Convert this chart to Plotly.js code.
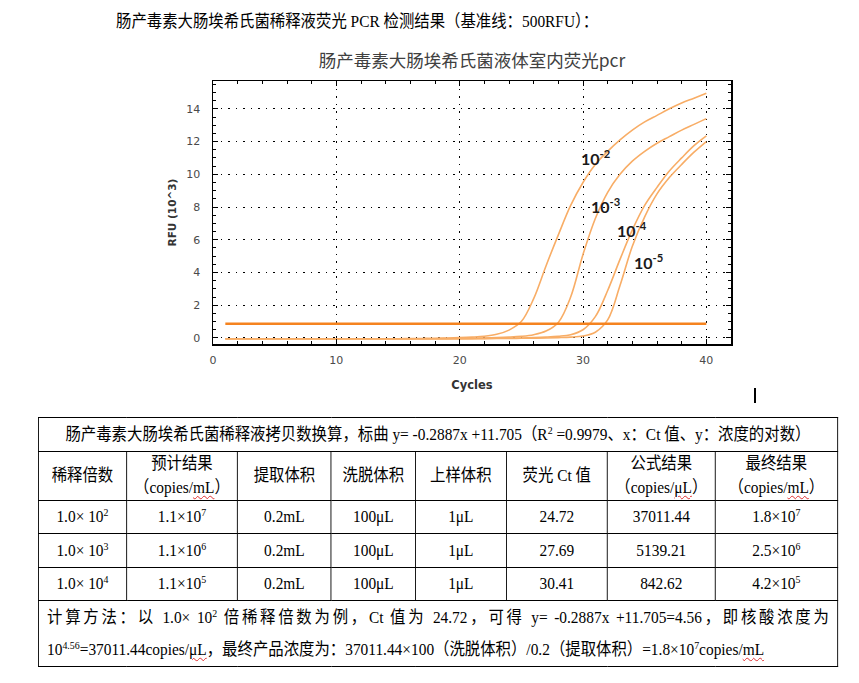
<!DOCTYPE html>
<html>
<head>
<meta charset="utf-8">
<script src="https://cdn.plot.ly/plotly-3.0.1.min.js"></script>
<style>
  body { margin: 0; width: 859px; height: 683px; position: relative; background: #fff; overflow: hidden; }
  .doc { font-family: "Liberation Serif", "Noto Sans CJK SC", serif; font-size: 17.1px; color: #000; transform: scaleX(0.9); transform-origin: 0 0; }
  #heading { position: absolute; left: 116px; top: 7px; white-space: nowrap; z-index: 2; }
  #chart { position: absolute; left: 0; top: 0; width: 859px; height: 410px; }
  #cursor { position: absolute; left: 754px; top: 388px; width: 1.5px; height: 15px; background: #000; }
  #tbl { position: absolute; left: 38px; top: 417px; border-collapse: collapse; table-layout: fixed; }
  #tbl td { border: 1px solid #000; text-align: center; vertical-align: middle; padding: 0; line-height: 24px; white-space: nowrap; overflow: visible; }
  #tbl sup { font-size: 11px; vertical-align: 6px; line-height: 1; }
  .sp { text-decoration: underline wavy #e03030; text-decoration-thickness: 1px; text-underline-offset: 2px; }
  #tbl td.note { text-align: left; padding: 0 9px; line-height: 32px; }
  .jl { display: block; text-align: justify; text-align-last: justify; }
</style>
</head>
<body>
<div id="heading" class="doc">肠产毒素大肠埃希氏菌稀释液荧光 PCR 检测结果（基准线：500RFU）：</div>
<div id="chart"></div>
<div id="cursor"></div>
<table id="tbl" class="doc"></table>
<script>
// 循环数
var cycles = [1,2,3,4,5,6,7,8,9,10,11,12,13,14,15,16,17,18,19,20,
              21,22,23,24,25,26,27,28,29,30,31,32,33,34,35,36,37,38,39,40];

// 各稀释度扩增曲线 RFU (10^3)
var rfu1e2 = [-0.05,-0.05,-0.05,-0.05,-0.05,-0.05,-0.05,-0.05,-0.05,-0.05,
              -0.05,-0.05,-0.05,-0.05,-0.05,-0.04,-0.03,-0.02,0.0,0.02,
              0.05,0.1,0.22,0.48,1.0,2.4,4.4,6.3,8.1,9.5,
              10.6,11.4,12.1,12.7,13.2,13.6,14.0,14.35,14.65,14.95];
var rfu1e3 = [-0.05,-0.05,-0.05,-0.05,-0.05,-0.05,-0.05,-0.05,-0.05,-0.05,
              -0.05,-0.05,-0.05,-0.05,-0.05,-0.05,-0.05,-0.05,-0.04,-0.03,
              -0.02,0.0,0.02,0.05,0.1,0.2,0.42,0.95,2.5,5.1,
              7.3,8.9,10.0,10.8,11.4,11.9,12.3,12.7,13.05,13.4];
var rfu1e4 = [-0.05,-0.05,-0.05,-0.05,-0.05,-0.05,-0.05,-0.05,-0.05,-0.05,
              -0.05,-0.05,-0.05,-0.05,-0.05,-0.05,-0.05,-0.05,-0.05,-0.05,
              -0.04,-0.03,-0.02,-0.01,0.0,0.02,0.05,0.1,0.2,0.5,
              1.3,2.9,4.8,6.6,8.1,9.2,10.2,11.0,11.75,12.35];
var rfu1e5 = [-0.05,-0.05,-0.05,-0.05,-0.05,-0.05,-0.05,-0.05,-0.05,-0.05,
              -0.05,-0.05,-0.05,-0.05,-0.05,-0.05,-0.05,-0.05,-0.05,-0.05,
              -0.05,-0.04,-0.03,-0.03,-0.02,-0.01,0.0,0.02,0.05,0.12,
              0.35,1.1,3.2,5.6,7.4,8.8,9.8,10.6,11.35,12.0];

// 基准线
var baseX = [1, 40];
var baseY = [0.87, 0.87];

// 曲线标注
var labelText = ['10<sup>-2</sup>', '10<sup>-3</sup>', '10<sup>-4</sup>', '10<sup>-5</sup>'];
var labelX = [31.0, 31.8, 34.0, 35.3];
var labelY = [11.0, 8.1, 6.6, 4.7];

// 表格数据
var tableTitle = '肠产毒素大肠埃希氏菌稀释液拷贝数换算，标曲 y= -0.2887x +11.705（R<sup>2</sup> =0.9979、x：Ct 值、y：浓度的对数）';
var headers = ['稀释倍数', '预计结果<br>（copies/<span class="sp">mL</span>）', '提取体积', '洗脱体积', '上样体积',
               '荧光 Ct 值', '公式结果<br>（copies/<span class="sp">μL</span>）', '最终结果<br>（copies/<span class="sp">mL</span>）'];
var dilutionExp = [2, 3, 4];
var expectedMant = ['1.1', '1.1', '1.1'];
var expectedExp = [7, 6, 5];
var extractVol = ['0.2mL', '0.2mL', '0.2mL'];
var elutionVol = ['100μL', '100μL', '100μL'];
var loadVol = ['1μL', '1μL', '1μL'];
var ctValues = [24.72, 27.69, 30.41];
var formulaResult = [37011.44, 5139.21, 842.62];
var finalMant = ['1.8', '2.5', '4.2'];
var finalExp = [7, 6, 5];
var noteLine1 = '计算方法：以 1.0× 10<sup>2</sup> 倍稀释倍数为例，Ct 值为 24.72，可得 y= -0.2887x +11.705=4.56，即核酸浓度为';
var noteLine2 = '10<sup>4.56</sup>=37011.44copies/<span class="sp">μL</span>，最终产品浓度为：37011.44×100（洗脱体积）/0.2（提取体积）=1.8×10<sup>7</sup>copies/<span class="sp">mL</span>';

var colWidths = [88, 111, 94, 84, 91, 101, 108, 122];
var rowHeights = [34, 48, 33, 34, 33, 66];
var squeeze = 0.9;

// ---- 图 ----
var curveColor = '#f8ad66';
function curve(y, name) {
    return {
        x: cycles, y: y, name: name, type: 'scatter', mode: 'lines',
        line: { color: curveColor, width: 1.6, shape: 'spline', smoothing: 1 },
        hoverinfo: 'x+y+name'
    };
}

var data = [
    curve(rfu1e2, '10^-2'),
    curve(rfu1e3, '10^-3'),
    curve(rfu1e4, '10^-4'),
    curve(rfu1e5, '10^-5'),
    {
        x: baseX, y: baseY, name: '基准线', type: 'scatter', mode: 'lines',
        line: { color: '#f5831f', width: 2.6 }
    }
];

var tickFont = { family: 'DejaVu Sans', size: 11, color: '#4a4a4a' };

var layout = {
    width: 859,
    height: 410,
    paper_bgcolor: 'rgba(0,0,0,0)',
    plot_bgcolor: '#fff',
    showlegend: false,
    margin: { l: 213, r: 128, t: 81, b: 66, pad: 0 },
    title: {
        text: '肠产毒素大肠埃希氏菌液体室内荧光pcr',
        font: { family: 'Noto Sans CJK SC', size: 17.5, color: '#404040' },
        xref: 'paper', x: 0.5, xanchor: 'center',
        yref: 'container', y: 0.852, yanchor: 'middle'
    },
    xaxis: {
        range: [0, 42],
        dtick: 10, tick0: 0,
        ticks: 'inside', ticklen: 5, tickcolor: '#000', tickwidth: 1,
        minor: { dtick: 2, ticks: 'inside', ticklen: 3, tickcolor: '#000', showgrid: false },
        showline: true, linecolor: '#000', linewidth: 1.5, mirror: 'allticks',
        showgrid: true, gridcolor: '#000', gridwidth: 1, griddash: '1.5px,6px',
        zeroline: false,
        tickfont: tickFont,
        ticklabelstandoff: 5,
        title: { text: 'Cycles', font: { family: 'DejaVu Sans', size: 11.5, color: '#333', weight: 'bold' }, standoff: 15 }
    },
    yaxis: {
        range: [-0.37, 15.7],
        dtick: 2, tick0: 0,
        ticks: 'inside', ticklen: 5, tickcolor: '#000', tickwidth: 1,
        minor: { dtick: 0.5, ticks: 'inside', ticklen: 3, tickcolor: '#000', showgrid: false },
        showline: true, linecolor: '#000', linewidth: 1.5, mirror: 'allticks',
        showgrid: true, gridcolor: '#000', gridwidth: 1, griddash: '1.5px,6px',
        zeroline: false,
        tickfont: tickFont,
        ticklabelstandoff: 9,
        title: { text: 'RFU (10^3)', font: { family: 'DejaVu Sans', size: 10.5, color: '#333', weight: 'bold' }, standoff: 7 }
    },
    // 轴外侧短刻度
    xaxis2: {
        overlaying: 'x', anchor: 'y', side: 'bottom', range: [0, 42],
        dtick: 10, tick0: 0, ticks: 'outside', ticklen: 4, tickcolor: '#000',
        minor: { dtick: 2, ticks: 'outside', ticklen: 3, tickcolor: '#000' },
        showticklabels: false, showgrid: false, showline: false, zeroline: false
    },
    yaxis2: {
        overlaying: 'y', anchor: 'x', side: 'left', range: [-0.37, 15.7],
        dtick: 2, tick0: 0, ticks: 'outside', ticklen: 4, tickcolor: '#000',
        minor: { dtick: 0.5, ticks: 'outside', ticklen: 3, tickcolor: '#000' },
        showticklabels: false, showgrid: false, showline: false, zeroline: false
    },
    annotations: labelText.map(function (t, i) {
        return {
            x: labelX[i], y: labelY[i], xref: 'x', yref: 'y',
            text: '<b>' + t + '</b>', showarrow: false,
            font: { family: 'Lato', size: 16, color: '#1a1a1a' }
        };
    })
};

Plotly.newPlot('chart', data, layout, { displayModeBar: false, staticPlot: true });

// ---- 表 ----
function sup(m, e) { return m + '×10<sup>' + e + '</sup>'; }
var tableWidth = colWidths.reduce(function (a, b) { return a + b; }, 0) / squeeze;
var tbl = document.getElementById('tbl');
tbl.style.width = tableWidth.toFixed(1) + 'px';
var html = '<colgroup>' + colWidths.map(function (w) { return '<col style="width:' + (w / squeeze).toFixed(1) + 'px">'; }).join('') + '</colgroup>';
html += '<tr style="height:' + rowHeights[0] + 'px"><td colspan="8">' + tableTitle + '</td></tr>';
html += '<tr style="height:' + rowHeights[1] + 'px">' + headers.map(function (h) { return '<td>' + h + '</td>'; }).join('') + '</tr>';
for (var i = 0; i < dilutionExp.length; i++) {
    var cells = [
        '1.0× 10<sup>' + dilutionExp[i] + '</sup>',
        sup(expectedMant[i], expectedExp[i]),
        extractVol[i], elutionVol[i], loadVol[i],
        ctValues[i].toFixed(2),
        formulaResult[i].toFixed(2),
        sup(finalMant[i], finalExp[i])
    ];
    html += '<tr style="height:' + rowHeights[2 + i] + 'px">' + cells.map(function (c) { return '<td>' + c + '</td>'; }).join('') + '</tr>';
}
html += '<tr style="height:' + rowHeights[5] + 'px"><td colspan="8" class="note"><span class="jl">' + noteLine1 + '</span>' + noteLine2 + '</td></tr>';
tbl.innerHTML = html;
</script>
</body>
</html>
